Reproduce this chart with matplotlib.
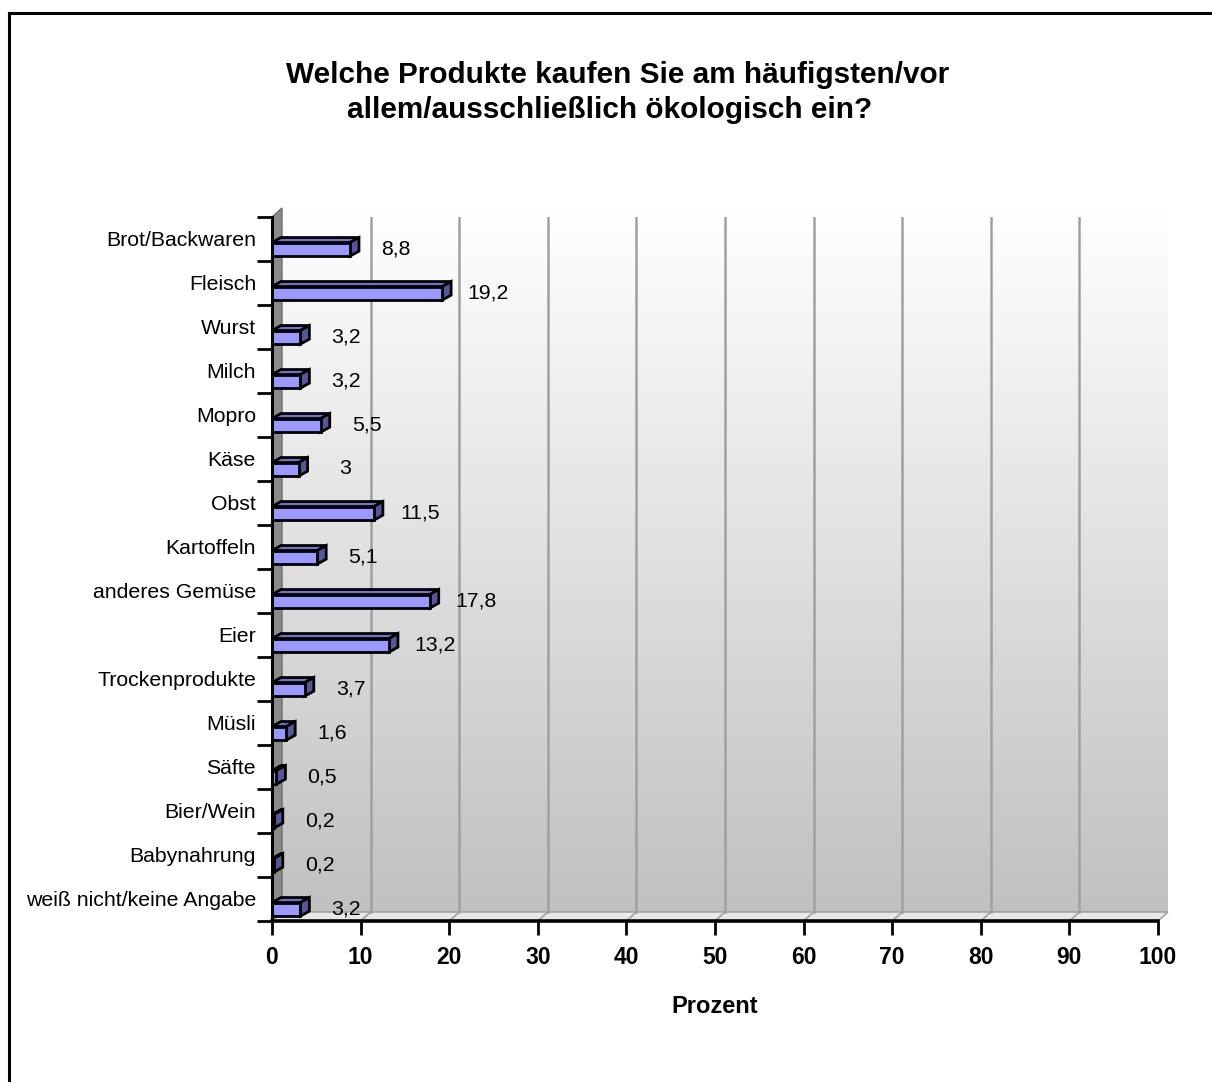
import matplotlib
matplotlib.use("Agg")
import matplotlib.pyplot as plt
import numpy as np
from matplotlib.patches import Polygon
from matplotlib.lines import Line2D
from matplotlib.transforms import IdentityTransform

plt.rcParams['font.family'] = ['Liberation Sans', 'DejaVu Sans']

categories = ["Brot/Backwaren", "Fleisch", "Wurst", "Milch", "Mopro", "Käse", "Obst",
              "Kartoffeln", "anderes Gemüse", "Eier", "Trockenprodukte", "Müsli", "Säfte",
              "Bier/Wein", "Babynahrung", "weiß nicht/keine Angabe"]
values = [8.8, 19.2, 3.2, 3.2, 5.5, 3.0, 11.5, 5.1, 17.8, 13.2, 3.7, 1.6, 0.5, 0.2, 0.2, 3.2]
value_labels = ["8,8", "19,2", "3,2", "3,2", "5,5", "3", "11,5", "5,1", "17,8", "13,2",
                "3,7", "1,6", "0,5", "0,2", "0,2", "3,2"]
xticks = [0, 10, 20, 30, 40, 50, 60, 70, 80, 90, 100]
title_lines = ["Welche Produkte kaufen Sie am häufigsten/vor",
               "allem/ausschließlich ökologisch ein?"]
xlabel = "Prozent"

W, H = 1212, 1082
fig = plt.figure(figsize=(W / 100, H / 100), dpi=100)
fig.patch.set_facecolor("white")


def px2fig(x0, y0, x1, y1):
    return [x0 / W, 1 - y1 / H, (x1 - x0) / W, (y1 - y0) / H]


DX, DY = 10, 9   # wall depth (pixels)
BX, BY = 9, 5    # bar depth (pixels)

FX0, FY0, FX1, FY1 = 272, 217, 1158, 921

bg = fig.add_axes(px2fig(FX0 + DX, FY0 - DY, FX1 + DX, FY1 - DY), zorder=0)
grad = np.linspace(1.0, 0.755, 256).reshape(-1, 1)
bg.imshow(np.dstack([grad, grad, grad]), aspect="auto", extent=[0, 1, 0, 1], origin="upper")
bg.set_axis_off()

ax = fig.add_axes(px2fig(FX0, FY0, FX1, FY1), zorder=1)
ax.patch.set_alpha(0)
n = len(categories)
ax.set_xlim(0, 100)
ax.set_ylim(n, 0)
fig.canvas.draw()

ID = IdentityTransform()


def P(x, y, dx=0, dy=0):
    p = ax.transData.transform((x, y))
    return (p[0] + dx, p[1] + dy)


def poly(pts, fc, ec, lw, z):
    ax.add_patch(Polygon(pts, closed=True, facecolor=fc, edgecolor=ec, linewidth=lw,
                         transform=ID, clip_on=False, zorder=z, joinstyle="miter"))


# side wall
poly([P(0, 0), P(0, 0, DX, DY), P(0, n, DX, DY), P(0, n)], "#8a8a8a", "#6e6e6e", 1.0, 1)
# floor
poly([P(0, n), P(100, n), P(100, n, DX, DY), P(0, n, DX, DY)], "#e8e8e8", "#9a9a9a", 1.0, 1)

for t in xticks[1:]:
    col = "#8c8c8c" if t == 100 else "#a0a0a0"
    lw = 2.2 if t == 100 else 1.8
    a = P(t, n, DX, DY)
    b = P(t, 0, DX, DY)
    ax.add_line(Line2D([a[0], b[0]], [a[1], b[1]], color=col, lw=lw, transform=ID, zorder=1.5))
    c = P(t, n)
    ax.add_line(Line2D([c[0], a[0]], [c[1], a[1]], color="#a0a0a0", lw=1.2, transform=ID, zorder=1.5))
a = P(0, 0, DX, DY)
b = P(100, 0, DX, DY)
ax.add_line(Line2D([a[0], b[0]], [a[1], b[1]], color="#8c8c8c", lw=2.2, transform=ID, zorder=1.5))

# bars
off_top, off_bot = 0.08, 0.39
for i, v in enumerate(values):
    ytop = i + 0.5 + off_top
    ybot = i + 0.5 + off_bot
    poly([P(0, ytop), P(v, ytop), P(v, ytop, BX, BY), P(0, ytop, BX, BY)], "#7272c8", "black", 2.0, 3)
    poly([P(v, ytop), P(v, ybot), P(v, ybot, BX, BY), P(v, ytop, BX, BY)], "#56569a", "black", 2.0, 3)
    poly([P(0, ytop), P(v, ytop), P(v, ybot), P(0, ybot)], "#9999ff", "black", 2.0, 3)
    ax.annotate(value_labels[i], xy=(v, i + 0.5 + 0.22), xytext=((BX + 37) * 0.72, 0),
                textcoords="offset points", ha="center", va="center", fontsize=15.3, zorder=4)

for s in ["top", "right"]:
    ax.spines[s].set_visible(False)
ax.spines["left"].set_linewidth(2.2)
ax.spines["bottom"].set_linewidth(2.6)
ax.spines["left"].set_zorder(5)
ax.spines["bottom"].set_zorder(5)

ax.set_xticks(xticks)
ax.set_xticklabels([str(t) for t in xticks], fontsize=16.5, fontweight="bold")
ax.tick_params(axis="x", direction="out", length=10, width=2.0, pad=8)

ax.set_yticks(np.arange(0, n + 1))
ax.set_yticklabels([])
ax.set_yticks(np.arange(n) + 0.5, minor=True)
ax.set_yticklabels(categories, minor=True, fontsize=15.3)
ax.tick_params(axis="y", which="major", direction="out", length=11, width=2.0)
ax.tick_params(axis="y", which="minor", length=0, pad=11.5)

ax.set_xlabel(xlabel, fontsize=17, fontweight="bold", labelpad=19)

fig.text(618 / W, 1 - 75 / H, title_lines[0], ha="center", va="center", fontsize=21.4,
         fontweight="bold")
fig.text(610 / W, 1 - 110 / H, title_lines[1], ha="center", va="center", fontsize=21.4,
         fontweight="bold")

fig.add_artist(Line2D([9 / W, 1.0], [1 - 13 / H, 1 - 13 / H], color="black", lw=2.2,
                      transform=fig.transFigure))
fig.add_artist(Line2D([9 / W, 9 / W], [1 - 13 / H, 0], color="black", lw=2.2,
                      transform=fig.transFigure))

fig.savefig("out.png", dpi=100)
